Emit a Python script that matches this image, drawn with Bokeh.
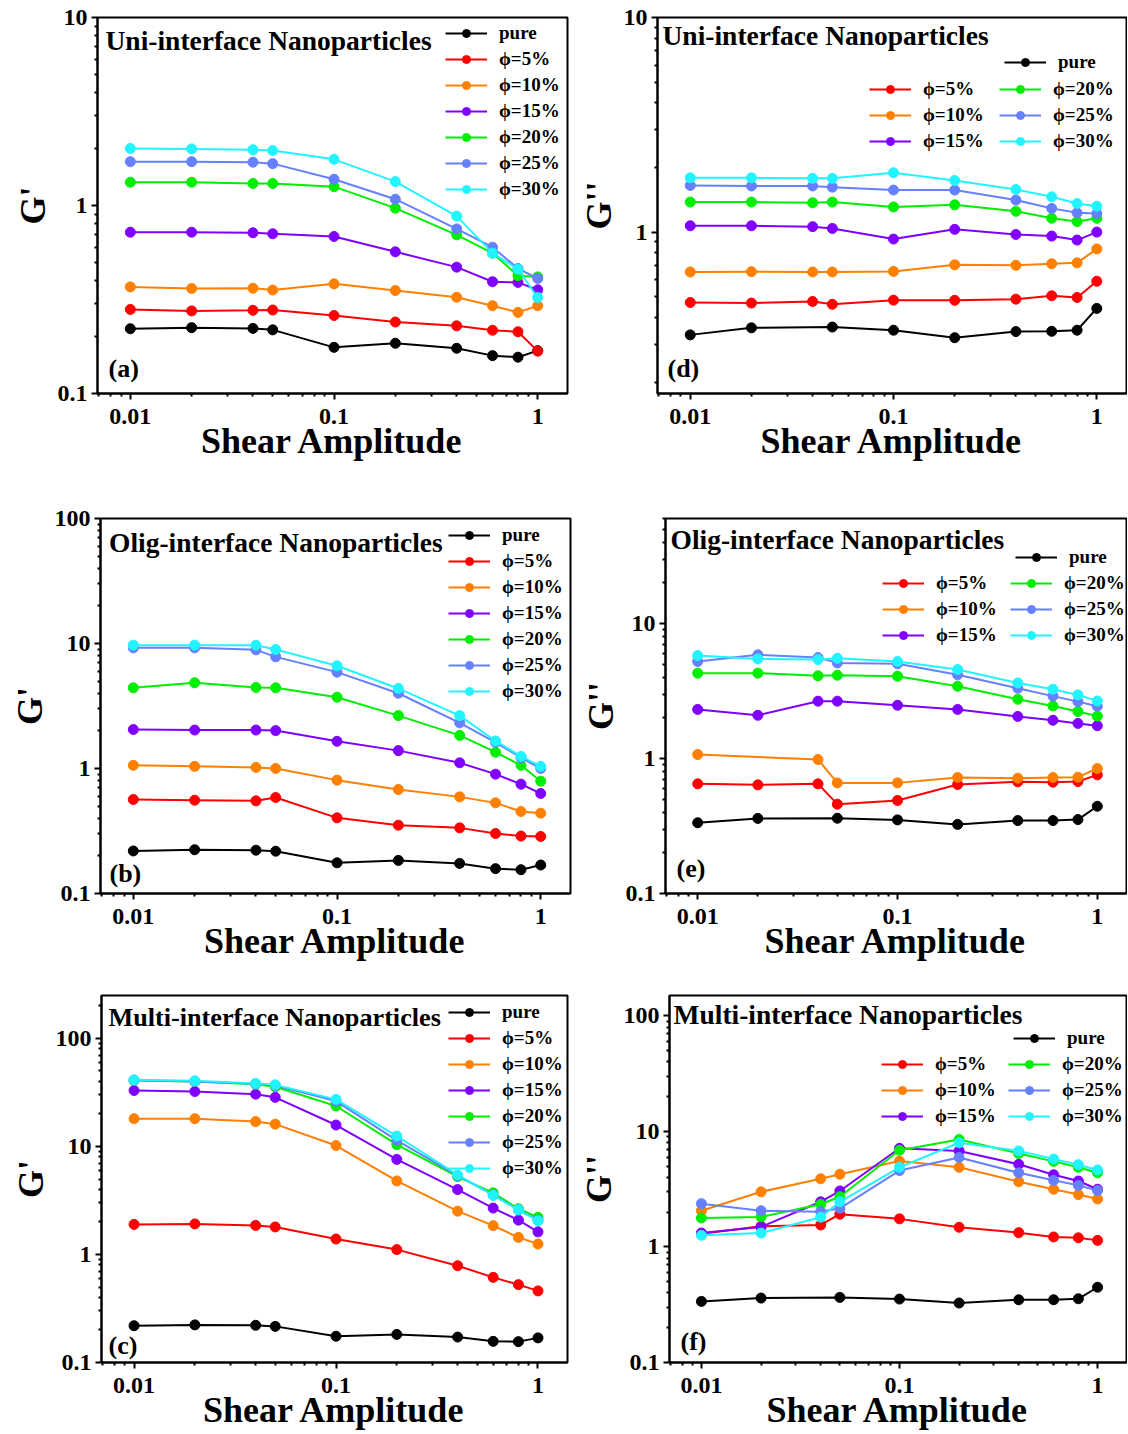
from bokeh.plotting import figure
from bokeh.layouts import column, row
from bokeh.models import (Range1d, FixedTicker, CustomJSTickFormatter, Legend,
                          LegendItem, Label)
from bokeh.embed import file_html
from bokeh.resources import INLINE

nan = float("nan")

# ---------------- data ----------------
strain = [0.01, 0.02, 0.04, 0.05, 0.1, 0.2, 0.4, 0.6, 0.8, 1.0]
names = ["pure", "ϕ=5%", "ϕ=10%", "ϕ=15%", "ϕ=20%", "ϕ=25%", "ϕ=30%"]
colors = ["#000000", "#FF0000", "#FF8000", "#8000FF", "#00EE00", "#6680FF", "#22F4FF"]

# (a) G', uni-interface
a_pure = [0.221, 0.224, 0.222, 0.218, 0.176, 0.185, 0.174, 0.159, 0.156, 0.169]
a_p5 = [0.280, 0.275, 0.277, 0.278, 0.260, 0.240, 0.229, 0.217, 0.213, 0.168]
a_p10 = [0.369, 0.362, 0.363, 0.355, 0.383, 0.353, 0.325, 0.293, 0.270, 0.293]
a_p15 = [0.721, 0.721, 0.716, 0.707, 0.684, 0.567, 0.470, 0.393, 0.390, 0.356]
a_p20 = [1.33, 1.33, 1.31, 1.31, 1.26, 0.968, 0.698, 0.558, 0.423, 0.417]
a_p25 = [1.71, 1.71, 1.70, 1.67, 1.38, 1.08, 0.751, 0.600, 0.462, 0.409]
a_p30 = [2.01, 2.00, 1.98, 1.96, 1.76, 1.34, 0.878, 0.558, 0.458, 0.324]

# (d) G'', uni-interface
d_pure = [0.332, 0.358, nan, 0.361, 0.349, 0.322, 0.344, 0.345, 0.349, 0.441]
d_p5 = [0.470, 0.467, 0.475, 0.461, 0.482, 0.481, 0.487, 0.505, 0.496, 0.590]
d_p10 = [0.652, 0.654, 0.652, 0.652, 0.656, 0.704, 0.700, 0.712, 0.719, 0.835]
d_p15 = [1.07, 1.07, 1.06, 1.04, 0.928, 1.03, 0.975, 0.958, 0.918, 1.0]
d_p20 = [1.38, 1.38, 1.37, 1.38, 1.31, 1.34, 1.25, 1.16, 1.12, 1.16]
d_p25 = [1.65, 1.64, 1.64, 1.62, 1.57, 1.57, 1.41, 1.29, 1.23, 1.22]
d_p30 = [1.79, 1.79, 1.78, 1.78, 1.89, 1.74, 1.58, 1.46, 1.36, 1.32]

# (b) G', olig-interface
b_pure = [0.219, 0.224, 0.222, 0.218, 0.176, 0.184, 0.174, 0.158, 0.155, 0.169]
b_p5 = [0.565, 0.558, 0.551, 0.586, 0.403, 0.352, 0.335, 0.302, 0.288, 0.286]
b_p10 = [1.06, 1.04, 1.02, 1.00, 0.807, 0.679, 0.593, 0.531, 0.453, 0.439]
b_p15 = [2.05, 2.03, 2.03, 2.01, 1.65, 1.39, 1.11, 0.901, 0.749, 0.631]
b_p20 = [4.42, 4.85, 4.45, 4.42, 3.72, 2.65, 1.84, 1.35, 1.06, 0.792]
b_p25 = [9.23, 9.23, 8.90, 7.82, 5.90, 4.00, 2.32, 1.62, 1.22, 1.00]
b_p30 = [9.70, 9.70, 9.70, 8.95, 6.63, 4.37, 2.65, 1.66, 1.25, 1.04]

# (e) G'', olig-interface
e_pure = [0.334, 0.360, nan, 0.361, 0.351, 0.325, 0.347, 0.347, 0.353, 0.443]
e_p5 = [0.649, 0.638, 0.649, 0.459, 0.489, 0.642, 0.672, 0.668, 0.675, 0.757]
e_p10 = [1.07, nan, 0.983, 0.66, 0.66, 0.723, 0.715, 0.723, 0.727, 0.843]
e_p15 = [2.31, 2.09, 2.66, 2.66, 2.48, 2.31, 2.05, 1.92, 1.82, 1.75]
e_p20 = [4.29, 4.29, 4.10, 4.14, 4.07, 3.43, 2.75, 2.45, 2.23, 2.06]
e_p25 = [5.23, 5.86, 5.60, 5.11, 5.03, 4.17, 3.32, 2.90, 2.64, 2.44]
e_p30 = [5.79, 5.47, 5.41, 5.53, 5.23, 4.56, 3.63, 3.26, 2.96, 2.67]

# (c) G', multi-interface
c_pure = [0.219, 0.223, 0.221, 0.216, 0.175, 0.182, 0.172, 0.157, 0.156, 0.169]
c_p5 = [1.90, 1.92, 1.86, 1.80, 1.39, 1.11, 0.787, 0.614, 0.526, 0.460]
c_p10 = [18.1, 18.1, 17.0, 16.1, 10.2, 4.80, 2.52, 1.85, 1.44, 1.25]
c_p15 = [33.0, 32.3, 30.5, 28.5, 15.8, 7.59, 3.99, 2.69, 2.08, 1.62]
c_p20 = [40.8, 39.9, 37.7, 35.7, 23.7, 10.4, 5.26, 3.72, 2.65, 2.21]
c_p25 = [41.0, 40.0, 38.0, 36.7, 26.3, 11.4, 5.37, 3.56, 2.59, 2.08]
c_p30 = [41.4, 40.6, 38.4, 37.2, 27.3, 12.5, 5.45, 3.52, 2.59, 2.05]

# (f) G'', multi-interface
f_pure = [0.338, 0.361, nan, 0.366, 0.354, 0.327, 0.349, 0.349, 0.356, 0.448]
f_p5 = [1.30, 1.51, 1.55, 1.92, 1.75, 1.48, 1.33, 1.22, 1.20, 1.14]
f_p10 = [2.06, 3.00, 3.89, 4.26, 5.54, 4.89, 3.67, 3.16, 2.84, 2.60]
f_p15 = [1.32, 1.49, 2.46, 3.05, 7.14, 6.78, 5.19, 4.21, 3.72, 3.16]
f_p20 = [1.78, 1.82, 2.34, 2.72, 6.87, 8.52, 6.44, 5.50, 4.89, 4.38]
f_p25 = [2.37, 2.06, 2.02, 2.16, 4.58, 5.95, 4.38, 3.77, 3.41, 3.08]
f_p30 = [1.26, 1.32, 1.81, 2.46, 4.89, 7.98, 6.78, 5.76, 5.15, 4.64]

x_ticks = [0.01, 0.1, 1]
x_title = "Shear Amplitude"
# ---------------------------------------

FONT = "Liberation Serif"
minor = [m * 10.0 ** e for e in range(-3, 3) for m in range(2, 10)]
fmt = CustomJSTickFormatter(code="return String(tick)")


def panel(series, yr, yticks, ylabel, title, letter, dims, title_pos, letter_pos,
          legend_mode, legend_pos, title_size="27.5px"):
    w, h, bl, br, bt, bb = dims
    p = figure(width=w, height=h, x_axis_type="log", y_axis_type="log",
               x_range=Range1d(0.0069, 1.40), y_range=Range1d(*yr),
               output_backend="svg", toolbar_location=None,
               min_border_left=bl, min_border_right=br,
               min_border_top=bt, min_border_bottom=bb)
    p.grid.visible = False
    p.outline_line_color = "black"
    p.outline_line_width = 2
    p.background_fill_color = "white"
    p.border_fill_color = "white"

    p.xaxis.ticker = FixedTicker(ticks=x_ticks, minor_ticks=minor)
    p.yaxis.ticker = FixedTicker(ticks=yticks, minor_ticks=minor)
    for ax in (p.xaxis, p.yaxis):
        ax.formatter = fmt
        ax.axis_line_width = 2
        ax.axis_line_color = "black"
        ax.major_tick_line_width = 2
        ax.minor_tick_line_width = 2
        ax.major_tick_out = 6
        ax.major_tick_in = 0
        ax.minor_tick_out = 3
        ax.minor_tick_in = 0
        ax.major_label_text_font = FONT
        ax.major_label_text_font_style = "bold"
        ax.major_label_text_font_size = "24px"
        ax.major_label_text_color = "black"
        ax.axis_label_text_font = FONT
        ax.axis_label_text_font_style = "bold"
        ax.axis_label_text_color = "black"
    p.xaxis.axis_label = x_title
    p.xaxis.axis_label_text_font_size = "36px"
    p.xaxis.major_label_standoff = 9
    p.xaxis.axis_label_standoff = -6
    p.yaxis.axis_label = ylabel
    p.yaxis.axis_label_text_font_size = "36px"
    p.yaxis.major_label_standoff = 4
    p.yaxis.axis_label_standoff = 2

    items = []
    for name, col, ys in zip(names, colors, series):
        xs_l = [x for x, y in zip(strain, ys) if y == y]
        ys_l = [y for y in ys if y == y]
        rl = p.line(xs_l, ys_l, line_color=col, line_width=2)
        rs = p.scatter(xs_l, ys_l, size=10, marker="circle", fill_color=col,
                       line_color=col)
        items.append(LegendItem(label=name, renderers=[rl, rs]))

    common = dict(label_text_font=FONT, label_text_font_style="bold",
                  label_text_font_size="19px", label_text_color="black",
                  glyph_width=42, glyph_height=20, label_height=20,
                  label_standoff=12, spacing=4, padding=0, margin=0,
                  border_line_alpha=0, background_fill_alpha=0)
    if legend_mode == 1:
        p.add_layout(Legend(items=items, location=legend_pos[0], **common))
    else:
        p.add_layout(Legend(items=items[:1], location=legend_pos[0], **common))
        p.add_layout(Legend(items=items[1:4], location=legend_pos[1], **common))
        p.add_layout(Legend(items=items[4:7], location=legend_pos[2], **common))

    p.add_layout(Label(x=title_pos[0], y=title_pos[1], x_units="screen",
                       y_units="screen", text=title, text_font=FONT,
                       text_font_style="bold", text_font_size=title_size,
                       text_baseline="middle", text_align="left",
                       text_color="black"))
    p.add_layout(Label(x=letter_pos[0], y=letter_pos[1], x_units="screen",
                       y_units="screen", text=letter, text_font=FONT,
                       text_font_style="bold", text_font_size="26px",
                       text_baseline="middle", text_align="left",
                       text_color="black"))
    return p


pa = panel([a_pure, a_p5, a_p10, a_p15, a_p20, a_p25, a_p30], (0.1, 10),
           [0.1, 1, 10], "G'", "Uni-interface Nanoparticles", "(a)",
           (575, 505, 97, 8, 17, 112), (8, 353), (11, 25), 1, [(348, 193)])
pd_ = panel([d_pure, d_p5, d_p10, d_p15, d_p20, d_p25, d_p30], (0.177, 10),
            [0.1, 1, 10], "G''", "Uni-interface Nanoparticles", "(d)",
            (552, 505, 79, 1, 17, 112), (5, 358), (10, 25), 3,
            [(347, 320), (212, 241), (342, 241)])
pb = panel([b_pure, b_p5, b_p10, b_p15, b_p20, b_p25, b_p30], (0.1, 100),
           [0.1, 1, 10, 100], "G'", "Olig-interface Nanoparticles", "(b)",
           (575, 480, 100, 5, 13, 92), (8.5, 351), (9, 20), 1, [(348, 191)])
pe = panel([e_pure, e_p5, e_p10, e_p15, e_p20, e_p25, e_p30], (0.1, 60),
           [0.1, 1, 10], "G''", "Olig-interface Nanoparticles", "(e)",
           (552, 480, 90, 1, 13, 92), (5, 354), (11, 25), 3,
           [(350, 325), (217, 247), (345, 247)])
pc = panel([c_pure, c_p5, c_p10, c_p15, c_p20, c_p25, c_p30], (0.1, 250),
           [0.1, 1, 10, 100], "G'", "Multi-interface Nanoparticles", "(c)",
           (575, 448, 101, 8, 10, 71), (7, 345), (7, 17), 1, [(347, 183)],
           title_size="26.2px")
pf = panel([f_pure, f_p5, f_p10, f_p15, f_p20, f_p25, f_p30], (0.1, 150),
           [0.1, 1, 10, 100], "G''", "Multi-interface Nanoparticles", "(f)",
           (552, 448, 88, 1, 10, 71), (4, 348), (11, 21), 3,
           [(344, 313), (212, 235), (339, 235)])

layout = column(row(pa, pd_), row(pb, pe), row(pc, pf))
open("out.html", "w").write(file_html(layout, INLINE))
